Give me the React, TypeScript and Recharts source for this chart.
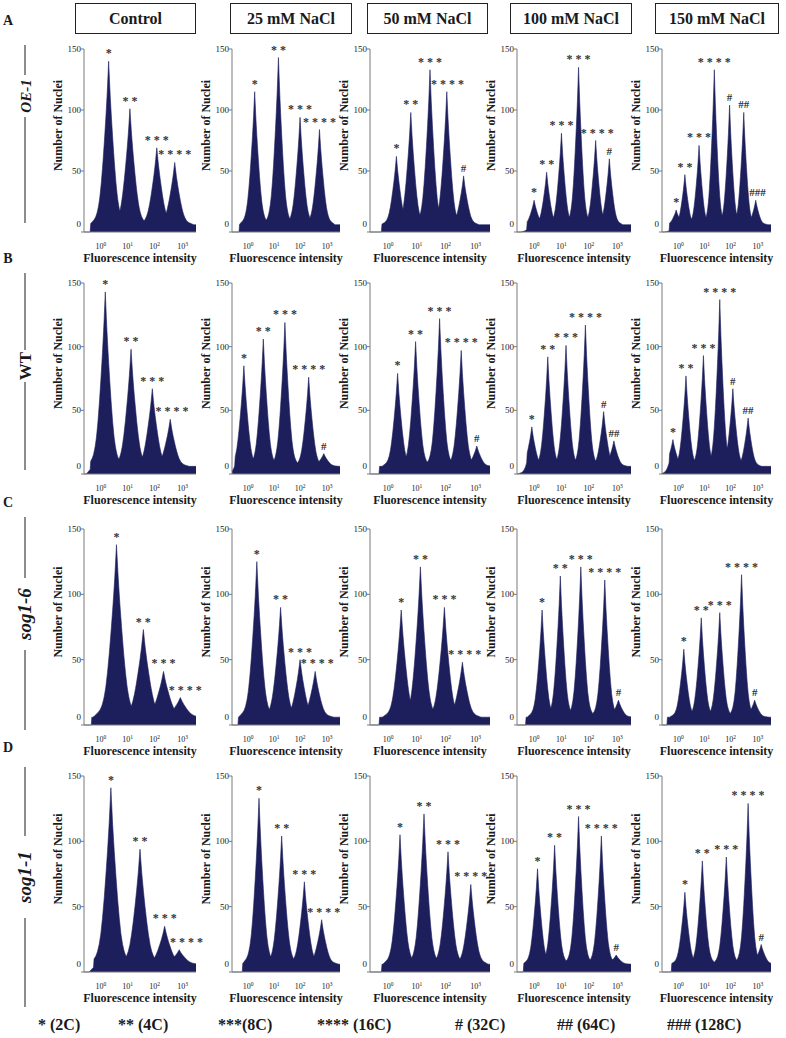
import { Area, AreaChart, LabelList, XAxis, YAxis } from "recharts"

const SERIF = '"Liberation Serif", "Times New Roman", serif'
const NAVY = "#1c1f5c"
const AXIS = "#7a7a7a"
const INK = "#1a1a1a"

const CONDITIONS = ["Control", "25 mM NaCl", "50 mM NaCl", "100 mM NaCl", "150 mM NaCl"]
const LINES = ["OE-1", "WT", "sog1-6", "sog1-1"]
const ROW_LETTERS = ["A", "B", "C", "D"]

// x axis: fluorescence channel 0..100, decades marked at these channels
const DECADE_TICKS = [15, 39, 63, 88]
const DECADE_EXP = ["0", "1", "2", "3"]
const COUNT_TICKS = [0, 50, 100, 150]

// peak channel, peak height (number of nuclei), marker, histogram start, peak spread
const OE1_POS = [[22, 41, 65, 81], [21, 43, 63, 81], [22, 34, 50, 64, 78], [15, 26, 39, 54, 69, 81], [13, 21, 34, 48, 62, 75, 86]]
const OE1_COUNT = [[140, 101, 69, 57], [115, 143, 94, 84], [62, 98, 133, 115, 46], [26, 49, 81, 135, 75, 60], [18, 47, 71, 133, 104, 98, 26]]
const OE1_MARK = [["*", "**", "***", "****"], ["*", "**", "***", "****"], ["*", "**", "***", "****", "#"], ["*", "**", "***", "***", "****", "#"], ["*", "**", "***", "****", "#", "##", "###"]]
const OE1_START = [6, 7, 10, 9, 7]
const OE1_SPREAD = [1.3, 1.1, 1.0, 0.9, 0.85]

const WT_POS = [[19, 42, 61, 77], [11, 29, 49, 71, 85], [23, 38, 58, 76, 89], [13, 27, 43, 60, 76, 85], [10, 22, 38, 53, 65, 79]]
const WT_COUNT = [[143, 98, 67, 43], [85, 106, 119, 76, 16], [79, 104, 122, 97, 22], [37, 92, 101, 117, 49, 26], [27, 77, 93, 137, 67, 44]]
const WT_MARK = [["*", "**", "***", "****"], ["*", "**", "***", "****", "#"], ["*", "**", "***", "****", "#"], ["*", "**", "***", "****", "#", "##"], ["*", "**", "***", "****", "#", "##"]]
const WT_START = [6, 3, 8, 9, 7]
const WT_SPREAD = [1.3, 1.1, 1.0, 0.95, 0.95]

const SOG16_POS = [[29, 53, 71, 86], [23, 45, 63, 77], [26, 42, 62, 77], [22, 38, 56, 77, 89], [20, 36, 53, 73, 85]]
const SOG16_COUNT = [[138, 73, 41, 21], [125, 90, 50, 41], [88, 121, 90, 48], [88, 114, 121, 111, 19], [58, 82, 86, 115, 19]]
const SOG16_MARK = [["*", "**", "***", "****"], ["*", "**", "***", "****"], ["*", "**", "***", "****"], ["*", "**", "***", "****", "#"], ["*", "**", "***", "****", "#"]]
const SOG16_START = [7, 6, 8, 8, 5]
const SOG16_SPREAD = [1.6, 1.3, 1.2, 1.0, 1.0]

const SOG11_POS = [[24, 50, 72, 85], [25, 46, 67, 83], [25, 45, 65, 84], [18, 33, 54, 74, 87], [21, 37, 59, 79, 91]]
const SOG11_COUNT = [[141, 94, 35, 17], [133, 104, 69, 40], [105, 121, 92, 67], [79, 97, 119, 104, 13], [61, 85, 88, 129, 21]]
const SOG11_MARK = [["*", "**", "***", "****"], ["*", "**", "***", "****"], ["*", "**", "***", "****"], ["*", "**", "***", "****", "#"], ["*", "**", "***", "****", "#"]]
const SOG11_START = [9, 10, 10, 6, 9]
const SOG11_SPREAD = [1.5, 1.2, 1.1, 1.0, 1.0]

// relative height of a peak at 0,1,2... channels from its top
const PEAK_SHAPE = [1, 0.8, 0.64, 0.5, 0.37, 0.26, 0.17, 0.11, 0.07, 0.045, 0.03, 0.02, 0.01, 0]
const FLOOR = 6

const LEGEND = ["* (2C)", "** (4C)", "***(8C)", "**** (16C)", "# (32C)", "## (64C)", "### (128C)"]

const ALL_POS = [OE1_POS, WT_POS, SOG16_POS, SOG11_POS]
const ALL_COUNT = [OE1_COUNT, WT_COUNT, SOG16_COUNT, SOG11_COUNT]
const ALL_MARK = [OE1_MARK, WT_MARK, SOG16_MARK, SOG11_MARK]
const ALL_START = [OE1_START, WT_START, SOG16_START, SOG11_START]
const ALL_SPREAD = [OE1_SPREAD, WT_SPREAD, SOG16_SPREAD, SOG11_SPREAD]

// page layout
const COL_X = [84, 232, 370, 517, 662]
const COL_END = [196, 340, 490, 631, 771]
const ROW_TOP = [49, 283, 529, 776]
const ROW_AXIS = [232, 474, 725, 972]
const HEADER_X = [[75, 196], [230, 352], [367, 488], [510, 632], [655, 779]]
const LETTER_Y = [20, 258, 502, 747]
const LINE_SPAN = [[45, 223], [273, 470], [517, 730], [767, 1007]]
const LINE_MID = [96, 366, 614, 877]
const LINE_GAP = [21, 16, 36, 41]
const LEGEND_X = [38, 118, 218, 317, 455, 557, 667]
const RIGHT_PAD = 24

type Row = { ch: number; n: number; mark?: string }

function shapeAt(d: number) {
  const k = Math.floor(d)
  if (k >= PEAK_SHAPE.length - 1) return 0
  const t = d - k
  return PEAK_SHAPE[k] * (1 - t) + PEAK_SHAPE[k + 1] * t
}

function histogram(pos: number[], count: number[], marks: string[], start: number, spread: number) {
  const rows: Row[] = []
  for (let ch = 0; ch <= 100; ch += 0.5) {
    let top = 0
    pos.forEach((p, i) => {
      top = Math.max(top, (count[i] - FLOOR) * shapeAt(Math.abs(ch - p) / spread))
    })
    const base = ch >= start ? FLOOR : 0
    const k = pos.indexOf(ch)
    rows.push({ ch, n: base + top, mark: k >= 0 ? marks[k] : undefined })
  }
  return rows
}

function markWidth(m: string) {
  return m.startsWith("*") ? m.length * 6 + (m.length - 1) * 3 : m.length * 6
}

// push a marker to the right until it sits clear of the filled histogram
function markShift(rows: Row[], row: Row, pxPerCh: number, pxPerUnit: number) {
  const half = markWidth(row.mark || "") / 2 / pxPerCh
  const bottom = row.n + 3 / pxPerUnit
  let shift = 0
  const blocked = (s: number) => rows.some((q) => q.ch >= row.ch + s - half && q.ch <= row.ch + s + half && q.n > bottom)
  while (shift < 14 && blocked(shift)) shift += 0.5
  return shift * pxPerCh
}

function DecadeTick({ x, y, payload }: any) {
  const i = DECADE_TICKS.indexOf(payload.value)
  return (
    <text x={x} y={y + 17} textAnchor="middle" fontSize={8} fontFamily={SERIF} fill={INK}>
      10
      <tspan dy={-3} fontSize={5.5}>
        {DECADE_EXP[i]}
      </tspan>
    </text>
  )
}

function CountTick({ x, y, payload }: any) {
  const lift = payload.value === 0 ? -8 : 0
  return (
    <text x={x} y={y + lift} dy={3} textAnchor="end" fontSize={9} fontFamily={SERIF} fill={INK}>
      {payload.value}
    </text>
  )
}

function XTitle({ viewBox }: any) {
  return (
    <text x={viewBox.x + viewBox.width / 2} y={viewBox.y + 30} textAnchor="middle" fontSize={12} fontWeight={700} fontFamily={SERIF} fill={INK}>
      Fluorescence intensity
    </text>
  )
}

function YTitle({ viewBox }: any) {
  const tx = viewBox.x + viewBox.width - 22
  const ty = viewBox.y + viewBox.height / 2 - 15
  return (
    <text x={tx} y={ty} transform={`rotate(-90 ${tx} ${ty})`} textAnchor="middle" fontSize={12} fontWeight={700} fontFamily={SERIF} fill={INK}>
      Number of Nuclei
    </text>
  )
}

function PeakMark(props: any) {
  const { value, dx } = props
  if (!value) return null
  const x = props.x ?? props.viewBox?.x
  const y = props.y ?? props.viewBox?.y
  const stars = String(value).startsWith("*")
  return (
    <text x={x + (dx || 0)} y={y - 4} textAnchor="middle" fontSize={stars ? 12 : 11} fontWeight={700} fontFamily={SERIF} fill="#333333">
      {stars ? String(value).split("").join(" ") : value}
    </text>
  )
}

function Panel({ r, c }: { r: number; c: number }) {
  const data = histogram(ALL_POS[r][c], ALL_COUNT[r][c], ALL_MARK[r][c], ALL_START[r][c], ALL_SPREAD[r][c])
  const plotW = COL_END[c] - COL_X[c]
  const plotH = ROW_AXIS[r] - ROW_TOP[r]
  const shifts = data.map((row) => (row.mark ? markShift(data, row, plotW / 100, plotH / 150) : 0))

  return (
    <div style={{ position: "absolute", left: COL_X[c] - 40, top: ROW_TOP[r] - 20 }}>
      <AreaChart width={plotW + 40 + RIGHT_PAD} height={plotH + 56} data={data} margin={{ top: 20, right: RIGHT_PAD, bottom: 0, left: 0 }}>
        <XAxis
          dataKey="ch"
          type="number"
          domain={[0, 100]}
          ticks={DECADE_TICKS}
          interval={0}
          tickLine={false}
          tickSize={0}
          tickMargin={0}
          axisLine={{ stroke: AXIS }}
          tick={<DecadeTick />}
          height={36}
          label={(p: any) => <XTitle viewBox={p.viewBox} />}
        />
        <YAxis
          type="number"
          domain={[0, 150]}
          ticks={COUNT_TICKS}
          interval={0}
          width={40}
          tickSize={3}
          tickMargin={0}
          axisLine={{ stroke: AXIS }}
          tickLine={{ stroke: AXIS }}
          tick={<CountTick />}
          label={(p: any) => <YTitle viewBox={p.viewBox} />}
        />
        <Area
          type="linear"
          dataKey="n"
          stroke={NAVY}
          strokeWidth={0.6}
          fill={NAVY}
          fillOpacity={1}
          dot={false}
          activeDot={false}
          isAnimationActive={false}
        >
          <LabelList dataKey="mark" content={(p: any) => <PeakMark {...p} dx={shifts[p.index]} />} />
        </Area>
      </AreaChart>
    </div>
  )
}

export default function App() {
  return (
    <div style={{ position: "absolute", left: 0, top: 0, width: 786, height: 1038, background: "#fff", fontFamily: SERIF }}>
      <svg width={786} height={1038} style={{ position: "absolute", left: 0, top: 0 }}>
        {ROW_LETTERS.map((l, r) => (
          <text key={l} x={8} y={LETTER_Y[r] + 5} textAnchor="middle" fontSize={14} fontWeight={700} fontFamily={SERIF} fill={INK}>
            {l}
          </text>
        ))}
        {LINES.map((name, r) => (
          <g key={name}>
            <line x1={25} x2={25} y1={LINE_SPAN[r][0]} y2={LINE_MID[r] - LINE_GAP[r]} stroke={INK} strokeWidth={1} />
            <line x1={25} x2={25} y1={LINE_MID[r] + LINE_GAP[r]} y2={LINE_SPAN[r][1]} stroke={INK} strokeWidth={1} />
            <text
              x={31}
              y={LINE_MID[r]}
              transform={`rotate(-90 31 ${LINE_MID[r]})`}
              textAnchor="middle"
              fontSize={r === 0 ? 15 : r === 1 ? 17 : 19}
              fontWeight={700}
              fontStyle={r === 1 ? "normal" : "italic"}
              fontFamily={SERIF}
              fill={INK}
            >
              {name}
            </text>
          </g>
        ))}
        {LEGEND.map((t, i) => (
          <text key={t} x={LEGEND_X[i]} y={1030} fontSize={16} fontWeight={700} fontFamily={SERIF} fill={INK}>
            {t}
          </text>
        ))}
      </svg>
      {CONDITIONS.map((t, c) => (
        <div
          key={t}
          style={{
            position: "absolute",
            left: HEADER_X[c][0],
            top: 3,
            width: HEADER_X[c][1] - HEADER_X[c][0],
            height: 31,
            boxSizing: "border-box",
            border: "1.5px solid #222",
            display: "flex",
            alignItems: "center",
            justifyContent: "center",
            fontSize: 16,
            fontWeight: 700,
            color: INK,
          }}
        >
          {t}
        </div>
      ))}
      {LINES.map((_, r) => CONDITIONS.map((__, c) => <Panel key={`${r}-${c}`} r={r} c={c} />))}
    </div>
  )
}
